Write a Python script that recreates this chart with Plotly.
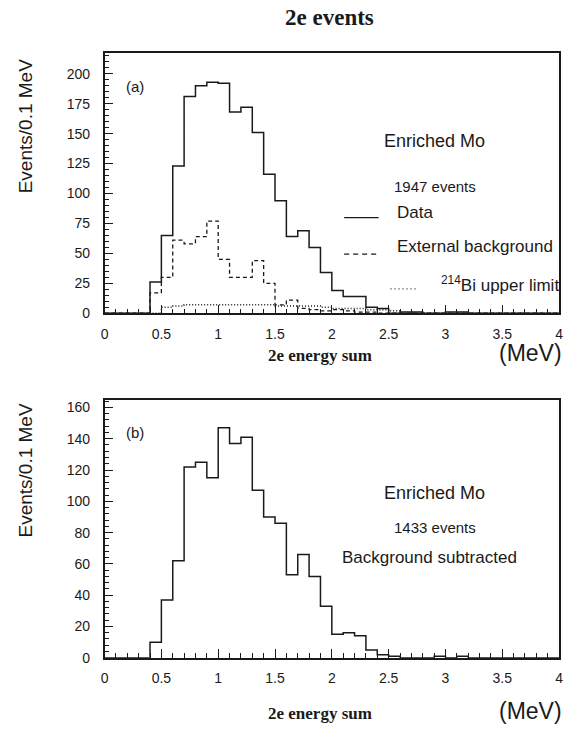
import plotly.graph_objects as go

# ---------------- data (bins of 0.1 MeV from 0.0 to 4.0) ----------------
bin_edges = [round(i * 0.1, 1) for i in range(41)]

data_a = [0, 0, 0, 0, 26, 65, 123, 181, 190, 193,
          192, 168, 172, 151, 116, 94, 64, 69, 55, 34,
          19, 14, 14, 5, 4, 0, 1, 1, 0, 0,
          1, 1, 0, 0, 0, 0, 0, 0, 0, 0]

ext_bkg = [0, 0, 0, 0, 17, 30, 61, 58, 64, 77,
           45, 30, 30, 44, 25, 7, 11, 4, 3, 2,
           3, 2, 1, 1, 0, 0, 0, 0, 0, 0,
           0, 0, 0, 0, 0, 0, 0, 0, 0, 0]

bi214 = [0, 0, 0, 0, 0, 5, 6, 7, 7, 7,
         7, 7, 7, 7, 7, 6, 6, 6, 6, 5,
         4, 4, 4, 3, 3, 2, 0, 0, 0, 0,
         0, 0, 0, 0, 0, 0, 0, 0, 0, 0]

data_b = [0, 0, 0, 0, 10, 37, 62, 122, 125, 115,
          147, 137, 141, 107, 90, 86, 53, 66, 52, 33,
          15, 16, 14, 5, 2, 1, 0, 0, 0, 1,
          0, 1, 0, 0, 0, 0, 0, 0, 0, 0]

x_ticks = [0, 0.5, 1, 1.5, 2, 2.5, 3, 3.5, 4]
x_ticklabels = ["0", "0.5", "1", "1.5", "2", "2.5", "3", "3.5", "4"]
ya_ticks = [0, 25, 50, 75, 100, 125, 150, 175, 200]
yb_ticks = [0, 20, 40, 60, 80, 100, 120, 140, 160]

W, H = 569, 736
INK = "#1a1a1a"
SANS = "Liberation Sans, Arial, sans-serif"
SERIF = "Liberation Serif, Times New Roman, serif"


def px(x):
    return x / W


def py(y):
    return 1 - y / H


def steps(vals):
    return bin_edges, vals + [vals[-1]]


fig = go.Figure()

xa, ya = steps(data_a)
fig.add_trace(go.Scatter(x=xa, y=ya, mode="lines", line=dict(shape="hv", color=INK, width=1.5),
                         xaxis="x", yaxis="y", showlegend=False, hoverinfo="skip"))
xb_, yb_ = steps(ext_bkg)
fig.add_trace(go.Scatter(x=xb_, y=yb_, mode="lines", line=dict(shape="hv", color=INK, width=1.3, dash="4px,3px"),
                         xaxis="x", yaxis="y", showlegend=False, hoverinfo="skip"))
xc, yc = steps(bi214)
fig.add_trace(go.Scatter(x=xc, y=yc, mode="lines", line=dict(shape="hv", color=INK, width=1.5, dash="1px,2px"),
                         xaxis="x", yaxis="y", showlegend=False, hoverinfo="skip"))
xd, yd = steps(data_b)
fig.add_trace(go.Scatter(x=xd, y=yd, mode="lines", line=dict(shape="hv", color=INK, width=1.5),
                         xaxis="x2", yaxis="y2", showlegend=False, hoverinfo="skip"))

# plot frame geometry (pixels)
X0, X1 = 102, 563
A_TOP, A_BOT = 54, 316.7
B_TOP, B_BOT = 404, 665

common_x = dict(range=[0, 4], tickvals=x_ticks, ticktext=x_ticklabels, ticks="inside", ticklen=9,
                tickwidth=1, tickcolor=INK, showline=True, linecolor=INK, linewidth=1.5, mirror=True,
                showgrid=False, zeroline=False, tickfont=dict(family=SANS, size=14, color=INK),
                ticklabelstandoff=7,
                minor=dict(dtick=0.1, ticks="inside", ticklen=5, tickwidth=1, tickcolor=INK, showgrid=False),
                domain=[px(X0), px(X1)], fixedrange=True)
common_y = dict(ticks="inside", ticklen=9, tickwidth=1, tickcolor=INK, showline=True, linecolor=INK,
                linewidth=1.5, mirror=True, showgrid=False, zeroline=False, ticklabelstandoff=10,
                tickfont=dict(family=SANS, size=14, color=INK), fixedrange=True)

fig.update_layout(
    width=W, height=H, margin=dict(l=0, r=0, t=0, b=0),
    paper_bgcolor="white", plot_bgcolor="white",
    xaxis=dict(**common_x, anchor="y"),
    yaxis=dict(**common_y, range=[0, 217], tickvals=ya_ticks, ticktext=[str(v) for v in ya_ticks],
               minor=dict(dtick=5, ticks="inside", ticklen=5, tickwidth=1, tickcolor=INK, showgrid=False),
               domain=[py(A_BOT), py(A_TOP)], anchor="x"),
    xaxis2=dict(**common_x, anchor="y2"),
    yaxis2=dict(**common_y, range=[0, 165], tickvals=yb_ticks, ticktext=[str(v) for v in yb_ticks],
                minor=dict(dtick=4, ticks="inside", ticklen=5, tickwidth=1, tickcolor=INK, showgrid=False),
                domain=[py(B_BOT), py(B_TOP)], anchor="x2"),
)

ann = []


def text(x, y, s, size=16, family=SANS, xanchor="center", angle=0):
    ann.append(dict(x=px(x), y=py(y), xref="paper", yref="paper", text=s, showarrow=False,
                    xanchor=xanchor, yanchor="middle", textangle=angle,
                    font=dict(family=family, size=size, color=INK)))


text(330, 18, "<b>2e events</b>", size=23, family=SERIF)
# panel a
text(122, 87, "(a)", size=15, xanchor="left")
text(437, 143, "Enriched Mo", size=18)
text(437, 189, "1947 events", size=15)
text(397, 215, "Data", size=17, xanchor="left")
text(397, 249, "External background", size=17, xanchor="left")
text(441, 287, "<sup>214</sup>Bi upper limit", size=17, xanchor="left")
text(320, 359, "<b>2e energy sum</b>", size=17, family=SERIF)
text(568, 357, "(MeV)", size=23, xanchor="right")
text(22, 128, "Events/0.1 MeV", size=19, angle=-90)
# panel b
text(122, 437, "(b)", size=15, xanchor="left")
text(437, 498, "Enriched Mo", size=18)
text(437, 533, "1433 events", size=15)
text(432, 564, "Background subtracted", size=17)
text(320, 721, "<b>2e energy sum</b>", size=17, family=SERIF)
text(568, 719, "(MeV)", size=23, xanchor="right")
text(22, 476, "Events/0.1 MeV", size=19, angle=-90)

fig.update_layout(annotations=ann)

# legend samples (decorations)
shapes = [
    dict(type="line", xref="paper", yref="paper", x0=px(345), x1=px(380), y0=py(220), y1=py(220),
         line=dict(color=INK, width=1.2)),
    dict(type="line", xref="paper", yref="paper", x0=px(345), x1=px(380), y0=py(257), y1=py(257),
         line=dict(color=INK, width=1.2, dash="5px,4px")),
    dict(type="line", xref="paper", yref="paper", x0=px(392), x1=px(420), y0=py(292), y1=py(292),
         line=dict(color=INK, width=1.3, dash="1px,3px")),
]
fig.update_layout(shapes=shapes)

fig.write_html("out.html")
